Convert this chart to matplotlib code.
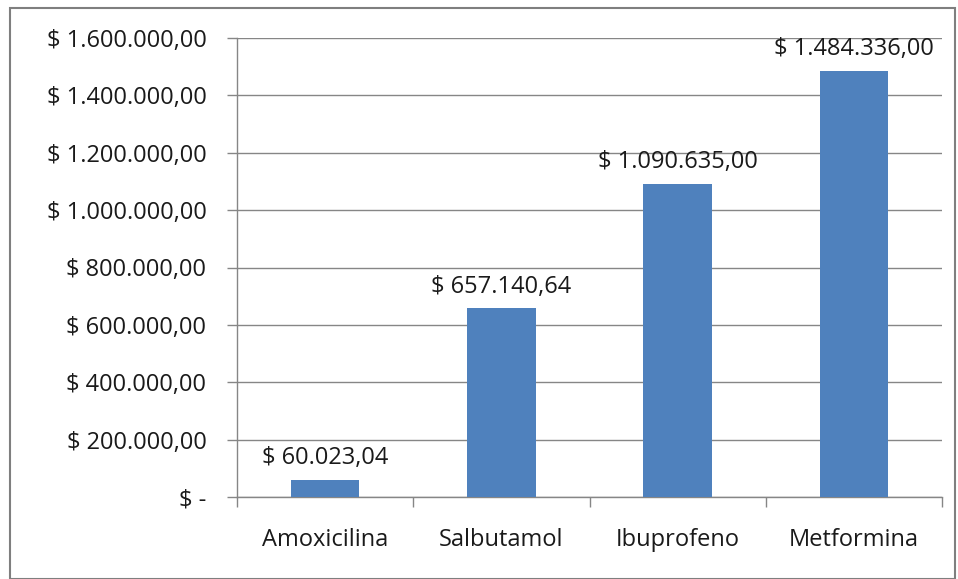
import matplotlib.pyplot as plt
from matplotlib.patches import Rectangle

medicamentos = ['Amoxicilina', 'Salbutamol', 'Ibuprofeno', 'Metformina']
valores = [60023.04, 657140.64, 1090635.00, 1484336.00]
etiquetas = ['$ 60.023,04', '$ 657.140,64', '$ 1.090.635,00', '$ 1.484.336,00']
y_ticks = [0, 200000, 400000, 600000, 800000, 1000000, 1200000, 1400000, 1600000]
y_labels = ['$ -', '$ 200.000,00', '$ 400.000,00', '$ 600.000,00', '$ 800.000,00',
            '$ 1.000.000,00', '$ 1.200.000,00', '$ 1.400.000,00', '$ 1.600.000,00']

plt.rcParams['font.family'] = ['Open Sans', 'DejaVu Sans']
W, H = 958, 579
fs = 17
fig = plt.figure(figsize=(W / 100, H / 100), dpi=100)
ax = fig.add_axes([237 / W, 1 - 497 / H, (942 - 237) / W, (497 - 38) / H])

grid_color = '#868686'
x = range(len(medicamentos))
ax.bar(x, valores, width=0.39, color='#4F81BD', zorder=3)
for i, (v, t) in enumerate(zip(valores, etiquetas)):
    ax.annotate(t, (i, v), xytext=(0, 7), textcoords='offset points',
                ha='center', va='bottom', fontsize=fs, color='#1a1a1a', zorder=4)

ax.set_xlim(-0.5, 3.5)
ax.set_ylim(0, 1600000)
ax.set_yticks(y_ticks)
ax.set_yticklabels(y_labels)
ax.set_xticks([i for i in x])
ax.set_xticklabels(medicamentos)
ax.set_xticks([-0.5, 0.5, 1.5, 2.5, 3.5], minor=True)
ax.tick_params(axis='x', which='major', length=0, pad=22, labelsize=fs, labelcolor='#1a1a1a')
ax.tick_params(axis='x', which='minor', length=7, color=grid_color, width=1)
ax.tick_params(axis='y', length=7, color=grid_color, width=1, pad=15,
               labelsize=fs, labelcolor='#1a1a1a')
ax.yaxis.grid(True, color=grid_color, linewidth=1, zorder=0)
ax.set_axisbelow(True)
for s in ['top', 'right']:
    ax.spines[s].set_visible(False)
for s in ['left', 'bottom']:
    ax.spines[s].set_color(grid_color)
    ax.spines[s].set_linewidth(1)

fig.patches.append(Rectangle((10 / W, 0), (W - 13) / W, 1 - 8 / H, transform=fig.transFigure,
                             fill=False, edgecolor='#7f7f7f', linewidth=1.5))

fig.savefig('out.png', dpi=100)
